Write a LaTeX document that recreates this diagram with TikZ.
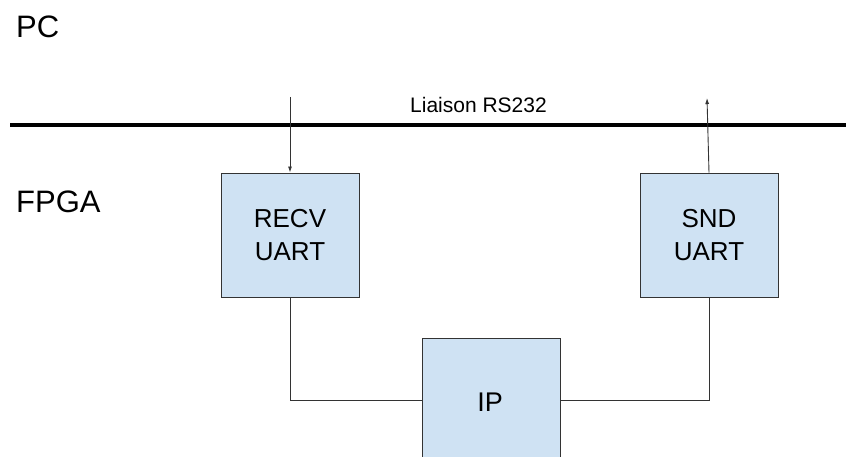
\documentclass[tikz,border=0pt]{standalone}
\usepackage{fontspec}
\setmainfont{Liberation Sans}
\usetikzlibrary{arrows.meta}
\definecolor{boxblue}{HTML}{CFE2F3}
\definecolor{linegray}{HTML}{333333}
\begin{document}
\begin{tikzpicture}[x=1pt,y=-1pt,
  blk/.style={draw=linegray,fill=boxblue,line width=0.9pt,minimum width=138pt,minimum height=124pt,inner sep=0pt,align=center,font=\fontsize{26}{33}\selectfont},
  wire/.style={draw=linegray,line width=0.9pt},
  arr/.style={wire,-{Latex[length=6pt,width=4pt]}},
  lbl/.style={font=\fontsize{31}{36}\selectfont,anchor=base west,inner sep=0pt}]
\useasboundingbox (0,0) rectangle (846,457);
\clip (0,0) rectangle (846,457);
\node[lbl] (pc) at (16,38) {PC};
\node[lbl] (fpga) at (16,213) {FPGA};
\coordinate (busL) at (10,125);
\coordinate (busR) at (846,125);
\draw[line width=4pt] (busL) -- (busR);
\node[font=\fontsize{21}{25}\selectfont,inner sep=0pt,anchor=base] (rs) at (478.5,113) {Liaison RS232};
\node[blk] (recv) at (290,235) {RECV\\UART};
\node[blk] (snd) at (709,235) {SND\\UART};
\node[blk,minimum height=160pt] (ip) at (491.5,418) {};
\node[font=\fontsize{27}{30}\selectfont,inner sep=0pt,anchor=base] (iptxt) at (490,411) {IP};
\coordinate (inTop) at (290,97);
\coordinate (outTop) at (707,98);
\coordinate (joinY) at (0,400);
\draw[arr] (inTop) -- (recv.north);
\draw[arr] (snd.north) -- (outTop);
\draw[wire] (recv.south) |- (ip.west |- joinY);
\draw[wire] (ip.east |- joinY) -| (snd.south);
\end{tikzpicture}
\end{document}
